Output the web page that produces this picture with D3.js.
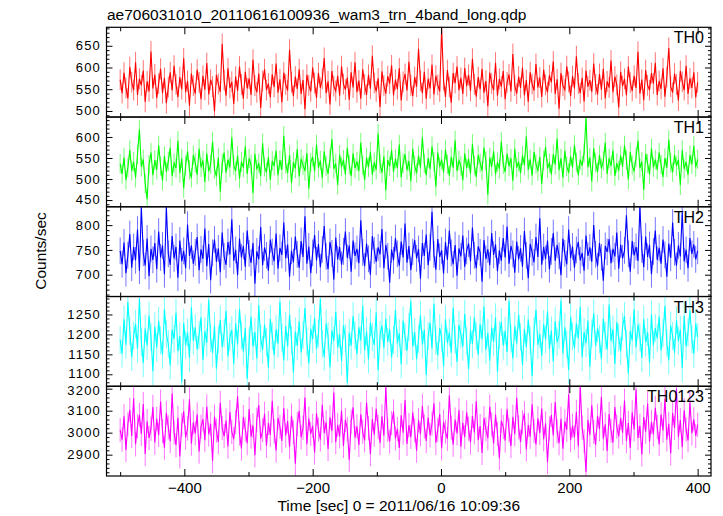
<!DOCTYPE html>
<html><head><meta charset="utf-8">
<script src="https://cdn.jsdelivr.net/npm/d3@7"></script>
<style>
body{margin:0;background:#fff}
svg{display:block}
text{font-family:"Liberation Sans",Arial,Helvetica,sans-serif;fill:#000}
</style>
</head><body><svg id="chart" width="723" height="516"></svg>
<script>
// ---------- data ----------
const chartTitle = "ae706031010_20110616100936_wam3_trn_4band_long.qdp";
const xAxisLabel = "Time [sec] 0 = 2011/06/16 10:09:36";
const yAxisLabel = "Counts/sec";
const bandNames = ["TH0", "TH1", "TH2", "TH3", "TH0123"];
const bandColors = ["#ff0000", "#00ff00", "#0000ff", "#00ffff", "#ff00ff"];
const timeStart = -500, timeStep = 3;
const xTickLabels = [-400, -200, 0, 200, 400];
const bandErrors = [24, 23, 27, 35, 55];

const th0 = [
572,541,588,553,529,601,566,548,612,537,574,559,593,521,568,545,637,552,584,530,
563,597,541,576,518,555,589,547,604,561,532,578,550,621,543,569,512,586,558,540,
595,566,527,581,549,610,538,572,556,499,583,562,544,654,571,535,598,553,567,516,
579,546,602,561,528,590,552,575,537,618,558,543,586,507,569,596,548,563,531,584,
555,609,542,573,520,588,561,547,641,566,534,579,551,596,539,571,504,583,559,545,
600,564,530,587,553,574,622,541,568,515,592,557,546,581,535,603,562,549,577,526,
589,554,612,543,570,528,596,561,537,583,551,627,564,545,575,509,591,558,540,580,
563,605,536,572,550,598,524,567,585,547,613,559,534,578,556,643,569,541,590,528,
574,552,606,538,581,560,545,690,571,532,594,555,519,587,564,602,548,576,539,599,
557,583,546,620,561,533,578,550,597,542,569,511,588,563,548,611,535,574,556,592,
527,566,584,545,631,558,540,579,553,600,536,571,521,589,562,547,608,554,577,532,
595,560,543,582,566,614,539,573,505,587,558,549,603,567,534,580,552,626,563,541,
576,522,593,556,571,544,609,561,538,585,549,597,529,568,554,616,543,579,560,508,
590,557,574,536,602,565,546,581,553,636,540,572,525,594,559,548,587,563,611,537,
569,551,598,533,578,645,556,542,586,561,524,592,567,548,604,539,575,553,589,531,
566];

const th1 = [
536,512,551,498,527,569,520,541,503,558,618,529,547,489,452,534,563,509,545,522,
580,531,496,555,517,542,574,507,538,526,591,514,549,478,532,566,521,503,557,539,
510,572,528,544,493,561,518,535,589,524,506,551,470,537,563,515,546,528,599,533,
519,556,501,541,527,578,512,549,534,466,560,523,538,507,585,529,516,552,498,543,
531,567,509,545,522,603,536,514,557,490,540,525,571,506,548,533,519,562,477,539,
553,518,582,527,544,502,566,531,513,549,595,524,537,486,558,529,546,511,574,534,
507,561,526,542,519,587,533,498,551,528,565,510,540,522,608,536,515,554,473,545,
530,569,517,548,526,582,504,538,559,521,543,495,572,532,514,556,527,599,537,509,
550,524,578,541,482,563,529,546,516,570,535,508,553,527,592,519,544,531,497,561,
526,548,513,584,532,505,557,538,520,575,543,462,551,529,566,511,540,524,589,535,
517,560,530,549,496,572,527,541,514,556,533,601,522,547,508,564,536,519,553,488,
544,576,525,538,511,559,534,596,521,549,503,567,530,515,554,527,581,540,509,546,
532,562,645,528,551,494,573,539,516,557,525,543,587,512,549,531,568,507,538,520,
556,529,580,545,499,564,533,518,552,591,526,541,474,560,537,511,573,528,546,522,
563,534,505,550,527,593,538,516,558,531,546,485,569,524,541,510,557,535,579,528,
547];

const th2 = [
748,721,765,703,739,782,714,756,729,791,708,836,744,718,773,697,752,730,764,711,
787,735,759,701,836,742,720,778,733,756,694,769,727,748,713,801,738,759,722,745,
776,709,751,732,793,717,762,689,744,771,726,753,705,785,737,720,766,741,812,728,
750,699,773,735,758,716,789,743,724,764,682,747,731,796,719,755,739,708,771,746,
727,783,712,754,740,805,733,761,696,748,725,777,741,714,768,736,818,722,757,703,
744,780,729,762,715,751,798,737,711,766,743,690,775,731,756,720,747,787,734,759,
706,769,738,752,723,810,745,717,763,732,700,778,749,726,755,741,792,713,760,737,
684,751,729,774,742,718,767,735,803,724,758,709,746,770,733,752,692,764,738,781,
719,755,827,741,710,772,736,749,702,766,730,789,744,721,760,698,753,737,779,716,
748,763,727,795,739,713,757,745,686,770,732,751,719,784,740,761,707,749,728,774,
735,797,722,758,742,704,767,731,753,716,788,739,693,762,745,725,776,736,814,720,
756,732,769,711,747,784,728,760,738,699,773,743,721,791,734,757,714,750,766,729,
744,708,779,738,755,726,800,741,717,764,735,688,758,746,772,723,752,737,785,712,
761,733,749,820,742,706,768,739,756,728,836,751,715,777,736,760,701,747,789,730,
754,722,771,740,696,763,734,805,745,718,759,737,826,727,750,713,774,742,761,731,
748];

const th3 = [
1186,1152,1238,1174,1281,1209,1143,1197,1226,1164,1290,1181,1128,1215,1172,1247,1193,1108,1220,1167,
1234,1185,1149,1263,1201,1176,1122,1212,1189,1254,1158,1196,1081,1229,1173,1205,1141,1268,1184,1217,
1162,1199,1243,1136,1208,1179,1286,1191,1153,1222,1114,1187,1236,1168,1203,1259,1145,1194,1211,1126,
1228,1175,1264,1198,1157,1216,1089,1183,1244,1170,1206,1139,1273,1190,1161,1225,1180,1117,1239,1196,
1148,1213,1177,1282,1192,1135,1221,1169,1250,1186,1104,1207,1171,1233,1155,1198,1266,1182,1127,1214,
1188,1241,1163,1202,1289,1176,1144,1227,1195,1118,1210,1184,1257,1167,1200,1133,1223,1191,1078,1204,
1172,1246,1197,1151,1218,1185,1272,1160,1208,1137,1230,1193,1174,1255,1110,1199,1222,1166,1240,1181,
1213,1142,1187,1261,1178,1203,1125,1235,1194,1159,1219,1283,1170,1206,1138,1189,1248,1175,1212,1098,
1196,1229,1165,1277,1184,1147,1216,1192,1120,1238,1179,1205,1154,1267,1187,1131,1224,1200,1169,1252,
1183,1113,1211,1176,1242,1195,1149,1226,1188,1270,1161,1204,1134,1217,1181,1243,1106,1198,1231,1172,
1209,1156,1284,1190,1140,1221,1177,1249,1193,1123,1214,1168,1237,1185,1095,1207,1262,1174,1201,1146,
1226,1187,1258,1163,1210,1132,1233,1180,1199,1285,1152,1218,1175,1111,1244,1195,1166,1228,1189,1269,
1143,1206,1178,1235,1119,1202,1253,1171,1215,1188,1138,1240,1197,1162,1275,1183,1213,1126,1231,1192,
1158,1219,1246,1176,1102,1209,1185,1263,1167,1225,1194,1141,1238,1180,1206,1129,1250,1173,1216,1190,
1244,1160,1203,1271,1179,1135,1222,1196,1154,1236,1184,1212,1115,1247,1170,1205,1260,1188,1151,1227,
1193];

const th0123 = [
3012,2968,3075,2921,3038,3104,2985,3156,2947,3029,3081,2994,3130,2903,3052,2976,3018,3117,2955,3063,
2989,3141,3007,2932,3090,3024,2961,3178,3001,2943,3068,2892,3035,3097,2978,3019,3152,2950,3046,2997,
3083,2914,3027,3061,2966,3119,2992,3040,2871,3073,3009,2958,3136,3021,2984,3055,2937,3094,3003,2971,
3048,3166,2996,2928,3071,3015,2952,3108,2982,3033,2897,3059,3125,2973,3011,3086,2941,3044,2990,3145,
3006,2919,3067,3026,2963,3112,2987,3053,2935,3078,3002,2859,3039,3099,2979,3022,3160,2948,3064,2994,
3031,2910,3088,3014,2969,3127,2999,3047,2926,3070,3008,3183,2957,3036,2983,3101,2940,3058,3016,2876,
3050,3115,2977,3029,2944,3084,3004,2965,3137,3020,2902,3062,2991,3108,3025,2953,3074,2986,3208,3012,
2960,3043,3096,2974,3017,2931,3079,3000,3148,2949,3034,2981,3091,3010,2918,3057,2993,3121,3028,2962,
3069,2988,3041,3134,2954,3013,3085,2929,3049,3005,2972,3170,3023,2945,3060,2997,3103,2936,3045,2980,
3092,3018,2956,3076,3001,3143,2967,3030,2908,3066,3015,2975,3118,3037,2951,3082,2995,2884,3054,3026,
2964,3106,3011,2939,3072,2993,3159,3024,2958,3047,3088,2924,3035,2982,3129,3008,2946,3065,2999,3110,
2970,3042,2866,3019,3080,2987,3139,3006,2952,3063,2927,3051,3013,3175,2966,3032,2978,3095,2938,3209,
3022,2961,2822,3058,2990,3124,3003,2944,3077,3016,3163,2973,3038,2917,3085,3009,2955,3116,3027,2983,
3067,3000,3146,2962,3044,2930,3093,3015,3196,2976,3031,2901,3071,3004,3132,2959,3049,2992,3113,3025,
2948,3083,3010,3154,2969,3040,2906,3089,3021,3198,2980,3057,2934,3102,3014,2965,3137,2997,3061,2985,
3036];

const bandSeries = [th0, th1, th2, th3, th0123];
const yDomains = [[486, 692.5], [434, 647.4], [656, 837], [1070, 1295], [2803, 3211]];
const yMajorSteps = [50, 50, 50, 50, 100];
const yMinorSteps = [10, 10, 10, 10, 20];

// ---------- layout ----------
const plotLeft = 106.5, plotRight = 711, plotTop = 27.3, plotBottom = 476;
const nPanels = bandNames.length;
const panelH = (plotBottom - plotTop) / nPanels;

const svg = d3.select("#chart");
const x = d3.scaleLinear().domain([-521.3, 420.8]).range([plotLeft, plotRight]);
const xMinor = d3.range(-500, 401, 100);

function stepTicks(dom, step) {
  const out = [];
  for (let v = Math.ceil(dom[0] / step) * step; v <= dom[1] + 1e-9; v += step) out.push(v);
  return out;
}

svg.append("text")
  .attr("x", 107).attr("y", 20)
  .style("font-size", "15.5px")
  .text(chartTitle);

bandSeries.forEach((vals, p) => {
  const top = plotTop + p * panelH, bot = top + panelH;
  const y = d3.scaleLinear().domain(yDomains[p]).range([bot, top]);
  const g = svg.append("g");
  const clipId = "clip" + p;
  svg.append("clipPath").attr("id", clipId).append("rect")
    .attr("x", plotLeft).attr("y", top).attr("width", plotRight - plotLeft).attr("height", panelH);

  const pts = vals.map((v, i) => ({t: timeStart + i * timeStep, v}));
  const err = bandErrors[p];
  const dg = g.append("g").attr("clip-path", `url(#${clipId})`);
  // error bars
  dg.append("path")
    .attr("d", pts.map(d => `M${x(d.t).toFixed(2)},${y(d.v - err).toFixed(2)}V${y(d.v + err).toFixed(2)}`).join(""))
    .attr("stroke", bandColors[p]).attr("stroke-opacity", 0.55).attr("stroke-width", 1).attr("fill", "none");
  dg.append("path")
    .datum(pts)
    .attr("d", d3.line().x(d => x(d.t)).y(d => y(d.v)))
    .attr("stroke", bandColors[p]).attr("stroke-width", 1.1).attr("fill", "none");

  const majors = stepTicks(yDomains[p], yMajorSteps[p]);
  const minors = stepTicks(yDomains[p], yMinorSteps[p]).filter(v => !majors.includes(v));

  // left axis
  const la = g.append("g").attr("transform", `translate(${plotLeft},0)`)
    .call(d3.axisLeft(y).tickValues(majors).tickSize(-6).tickPadding(6).tickFormat(d3.format("d")));
  la.selectAll("text")
    .style("font-size", "13px").style("letter-spacing", "1.2px")
    .attr("dx", "0.5")
    .attr("dy", d => (y(d) - top < 4 ? "0.42em" : (bot - y(d) < 14 ? "0.28em" : "0.32em")));
  g.append("g").attr("transform", `translate(${plotLeft},0)`)
    .call(d3.axisLeft(y).tickValues(minors).tickSize(-3).tickFormat(""));
  // right axis
  g.append("g").attr("transform", `translate(${plotRight},0)`)
    .call(d3.axisRight(y).tickValues(majors).tickSize(-6).tickFormat(""));
  g.append("g").attr("transform", `translate(${plotRight},0)`)
    .call(d3.axisRight(y).tickValues(minors).tickSize(-3).tickFormat(""));
  // top and bottom axes
  g.append("g").attr("transform", `translate(0,${top})`)
    .call(d3.axisTop(x).tickValues(xTickLabels).tickSize(-7).tickFormat(""));
  g.append("g").attr("transform", `translate(0,${top})`)
    .call(d3.axisTop(x).tickValues(xMinor.filter(v => !xTickLabels.includes(v))).tickSize(-4).tickFormat(""));
  const ba = g.append("g").attr("transform", `translate(0,${bot})`)
    .call(d3.axisBottom(x).tickValues(xTickLabels).tickSize(-7).tickPadding(6)
      .tickFormat(p === nPanels - 1 ? (d => d < 0 ? "\u2212" + Math.abs(d) : String(d)) : ""));
  ba.selectAll("text").style("font-size", "15px");
  g.append("g").attr("transform", `translate(0,${bot})`)
    .call(d3.axisBottom(x).tickValues(xMinor.filter(v => !xTickLabels.includes(v))).tickSize(-4).tickFormat(""));

  g.selectAll(".domain").remove();
  g.selectAll(".tick line").attr("stroke", "#000").attr("stroke-width", 1);

  g.append("rect")
    .attr("x", plotLeft).attr("y", top).attr("width", plotRight - plotLeft).attr("height", panelH)
    .attr("fill", "none").attr("stroke", "#000").attr("stroke-width", 1.2);

  g.append("text")
    .attr("x", 704).attr("y", top + 16)
    .attr("text-anchor", "end")
    .style("font-size", "16px")
    .text(bandNames[p]);
});

svg.append("text")
  .attr("x", (plotLeft + plotRight) / 2 - 10).attr("y", 511)
  .attr("text-anchor", "middle")
  .style("font-size", "15.5px")
  .text(xAxisLabel);

svg.append("text")
  .attr("transform", `translate(46,251) rotate(-90)`)
  .attr("text-anchor", "middle")
  .style("font-size", "15.5px")
  .text(yAxisLabel);
</script>
</body></html>
